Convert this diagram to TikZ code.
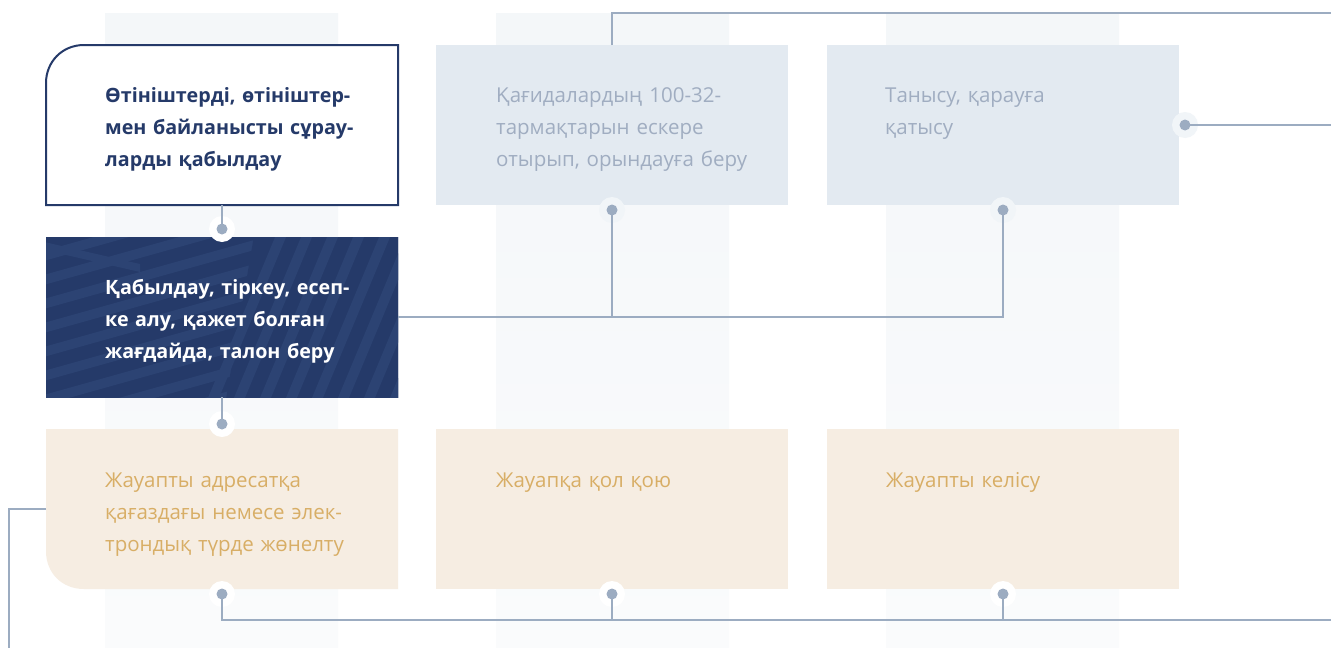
\documentclass[tikz,border=0pt]{standalone}
\usepackage{fontspec}
\setmainfont{Open Sans}
\definecolor{colbg}{HTML}{F4F7F9}
\definecolor{colbgb}{HTML}{FAFBFC}
\definecolor{navy}{HTML}{253A69}
\definecolor{navystripe}{HTML}{2C4373}
\definecolor{lineC}{HTML}{9CACC1}
\definecolor{lightbox}{HTML}{E3EAF1}
\definecolor{lighttext}{HTML}{A0ADC1}
\definecolor{cream}{HTML}{F6EDE2}
\definecolor{gold}{HTML}{D8AE66}
\definecolor{halolight}{HTML}{F1F5F8}
\begin{document}
\begin{tikzpicture}[x=1pt,y=-1pt,
  box/.style={draw=none, minimum width=352pt, minimum height=160pt, anchor=north west, inner sep=0pt, outer sep=0pt},
  txt/.style={anchor=base west, inner sep=0pt, text width=320pt, align=left, font=\fontsize{20.5}{32}\selectfont},
  boldtxt/.style={txt, font=\fontsize{19.7}{32}\selectfont\bfseries},
  conn/.style={draw=lineC, line width=2.5pt},
  dotmark/.style={circle, fill=lineC, minimum size=11pt, inner sep=0pt},
  halo/.style={circle, fill=#1, minimum size=26pt, inner sep=0pt},
]
\fill[white] (0,0) rectangle (1331,648);
\useasboundingbox (0,0) rectangle (1331,648);
% background columns
\shade[top color=colbg, bottom color=colbgb] (105,13) rectangle (338,648);
\shade[top color=colbg, bottom color=colbgb] (496,13) rectangle (729,648);
\shade[top color=colbg, bottom color=colbgb] (886,13) rectangle (1119,648);

% box nodes
\node[box] (nA) at (46,45) {};
\node[box, fill=lightbox] (nB) at (436,45) {};
\node[box, fill=lightbox] (nC) at (827,45) {};
\node[box] (nD) at (46,237) {};
\node[box] (nG) at (46,429) {};
\node[box, fill=cream] (nF) at (436,429) {};
\node[box, fill=cream] (nH) at (827,429) {};

% box A outline (rounded top-left)
\draw[fill=white, draw=navy, line width=2pt] (46,205) -- (46,83) .. controls (46,62) and (62,45) .. (84,45) -- (398,45) -- (398,205) -- cycle;
% box G shape (rounded bottom-left)
\fill[cream] (46,429) -- (398,429) -- (398,589) -- (84,589) .. controls (62,589) and (46,573) .. (46,551) -- cycle;

% dark box with stripe pattern
\begin{scope}
\clip (46,237) rectangle (398,397);
\fill[navy] (40,230) rectangle (405,405);
\foreach \k in {-2,...,9} {
  \fill[navystripe] (40,{252+\k*24}) -- (290,{182+\k*24}) -- (290,{192+\k*24}) -- (40,{262+\k*24}) -- cycle;
}
\fill[navy] (255,230) -- (410,230) -- (410,405) -- (225,405) -- cycle;
\foreach \k in {0,...,9} {
  \fill[navystripe] ({205+\k*26},405) -- ({278+\k*26},230) -- ({289+\k*26},230) -- ({216+\k*26},405) -- cycle;
}
\fill[navystripe] (40,241) -- (140,264) -- (140,272) -- (40,249) -- cycle;
\end{scope}

% texts
\node[boldtxt, text=navy] (tA) at (105,102) {Өтініштерді, өтініштер-\\мен байланысты сұрау-\\ларды қабылдау};
\node[txt, text=lighttext] (tB) at (496,102) {Қағидалардың 100-32-\\тармақтарын ескере\\отырып, орындауға беру};
\node[txt, text=lighttext] (tC) at (885,102) {Танысу, қарауға\\қатысу};
\node[boldtxt, text=white] (tD) at (105,294) {Қабылдау, тіркеу, есеп-\\ке алу, қажет болған\\жағдайда, талон беру};
\node[txt, text=gold] (tG) at (105,487) {Жауапты адресатқа\\қағаздағы немесе элек-\\трондық түрде жөнелту};
\node[txt, text=gold] (tF) at (496,487) {Жауапқа қол қою};
\node[txt, text=gold] (tH) at (886,487) {Жауапты келісу};

% dot coordinates
\coordinate (dA) at (222,229);
\coordinate (dG) at (222,424);
\coordinate (dBb) at (612,210);
\coordinate (dCb) at (1003,210);
\coordinate (dCr) at (1185,125);
\coordinate (dGb) at (222,594);
\coordinate (dFb) at (612,594);
\coordinate (dHb) at (1003,594);
\coordinate (eTop) at (1331,13);
\coordinate (eR) at (1331,125);
\coordinate (eL) at (9,648);
\coordinate (eB) at (1331,620);

% halos
\foreach \p in {dA,dG,dGb,dFb,dHb} { \node[halo=white] at (\p) {}; }
\foreach \p in {dBb,dCb,dCr} { \node[halo=halolight] at (\p) {}; }

% connectors
\draw[conn] (nA.south) -- (dA);
\draw[conn] (nD.south) -- (dG);
\draw[conn] (nD.east) -| (dCb);
\draw[conn] (dBb) -- (dBb |- nD.east);
\draw[conn] (nB.north) |- (eTop);
\draw[conn] (dCr) -- (eR);
\draw[conn] (nG.west) -| (eL);
\draw[conn] (dGb) |- (eB);
\draw[conn] (dFb) -- (dFb |- eB);
\draw[conn] (dHb) -- (dHb |- eB);

% dots
\foreach \p in {dA,dG,dBb,dCb,dCr,dGb,dFb,dHb} { \node[dotmark] at (\p) {}; }
\end{tikzpicture}
\end{document}
